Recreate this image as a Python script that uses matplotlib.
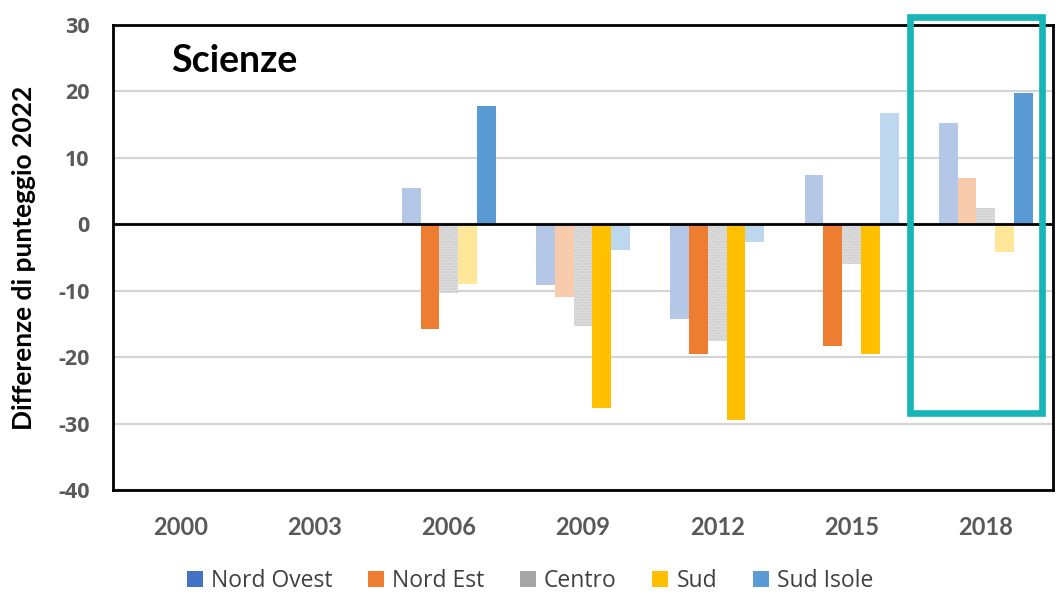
import numpy as np
import matplotlib
matplotlib.use("Agg")
import matplotlib.pyplot as plt
from matplotlib.patches import Patch, Rectangle

# PISA science: score difference vs 2022 by macro-area
years = ["2000", "2003", "2006", "2009", "2012", "2015", "2018"]
regions = ["Nord Ovest", "Nord Est", "Centro", "Sud", "Sud Isole"]

nord_ovest = [np.nan, np.nan, 5.5, -9.2, -14.3, 7.4, 15.2]
nord_est = [np.nan, np.nan, -15.8, -10.9, -19.6, -18.3, 7.0]
centro = [np.nan, np.nan, -10.4, -15.3, -17.5, -6.0, 2.5]
sud = [np.nan, np.nan, -9.0, -27.6, -29.5, -19.6, -4.1]
sud_isole = [np.nan, np.nan, 17.8, -3.9, -2.6, 16.7, 19.7]

# statistically significant differences are drawn in full colour
sig_nord_ovest = [False, False, False, False, False, False, False]
sig_nord_est = [False, False, True, False, True, True, False]
sig_centro = [False, False, False, False, False, False, False]
sig_sud = [False, False, False, True, True, True, False]
sig_sud_isole = [False, False, True, False, False, False, True]

series = [nord_ovest, nord_est, centro, sud, sud_isole]
significance = [sig_nord_ovest, sig_nord_est, sig_centro, sig_sud, sig_sud_isole]

full_colors = ["#4472C4", "#ED7D31", "#A5A5A5", "#FFC000", "#5B9BD5"]
light_colors = ["#B4C7E7", "#F8CBAD", "#DCDCDC", "#FFE699", "#BDD7EE"]

plt.rcParams["font.family"] = ["Lato", "DejaVu Sans"]
plt.rcParams["axes.unicode_minus"] = False
plt.rcParams["hatch.color"] = "#C4C4C4"
plt.rcParams["hatch.linewidth"] = 0.6

fig = plt.figure(figsize=(10.58, 5.94), dpi=100)
ax = fig.add_axes([113 / 1058, 1 - 490 / 594, 940 / 1058, 465 / 594])

x = np.arange(len(years))
n = len(series)
group_w = 0.70
bar_w = group_w / n

for i, (vals, sig) in enumerate(zip(series, significance)):
    offs = x - group_w / 2 + bar_w * (i + 0.5)
    cols = [full_colors[i] if s else light_colors[i] for s in sig]
    hatch = "......" if regions[i] == "Centro" else None
    ax.bar(offs, vals, width=bar_w, color=cols, linewidth=0, hatch=hatch, zorder=3)

ax.set_xlim(-0.5, len(years) - 0.5)
ax.set_ylim(-40, 30)
ax.set_yticks(np.arange(-40, 31, 10))
ax.set_xticks(x)
ax.set_xticklabels(years)

ax.grid(axis="y", color="#D4D4D4", linewidth=1.6, zorder=0)
ax.set_axisbelow(True)
ax.axhline(0, color="black", linewidth=2.0, zorder=4)

for sp in ax.spines.values():
    sp.set_color("black")
    sp.set_linewidth(2.0)

ax.tick_params(axis="both", length=0, colors="#595959")
ax.tick_params(axis="y", pad=17)
ax.tick_params(axis="x", pad=19)
for lbl in ax.get_yticklabels():
    lbl.set_fontfamily(["Open Sans", "DejaVu Sans"])
    lbl.set_fontsize(15.5)
    lbl.set_fontweight("bold")
for lbl in ax.get_xticklabels():
    lbl.set_fontsize(17)
    lbl.set_fontweight("bold")

fig.text(12 / 1058, 1 - 258 / 594, "Differenze di punteggio 2022", rotation=90,
         ha="left", va="center", fontsize=19, fontweight="bold", color="black")

ax.text(0.062, 0.899, "Scienze", transform=ax.transAxes, ha="left", va="baseline",
        fontsize=27, fontweight="bold", color="black")

# highlight box around the 2018 group
ax.add_patch(Rectangle((5.438, -28.4), 6.417 - 5.438, 31.27 + 28.4,
                       fill=False, edgecolor="#17B5B5", linewidth=4.8,
                       clip_on=False, zorder=6))

handles = [Patch(facecolor=c, edgecolor="none") for c in full_colors]
fig.legend(handles, regions, loc="center", bbox_to_anchor=(530 / 1058, 1 - 581 / 594),
           ncol=5, frameon=False, handlelength=0.7, handleheight=0.7,
           handletextpad=0.35, columnspacing=1.55, labelcolor="#404040",
           prop={"family": ["Open Sans", "DejaVu Sans"], "size": 16.5})

fig.savefig("out.png", dpi=100)
